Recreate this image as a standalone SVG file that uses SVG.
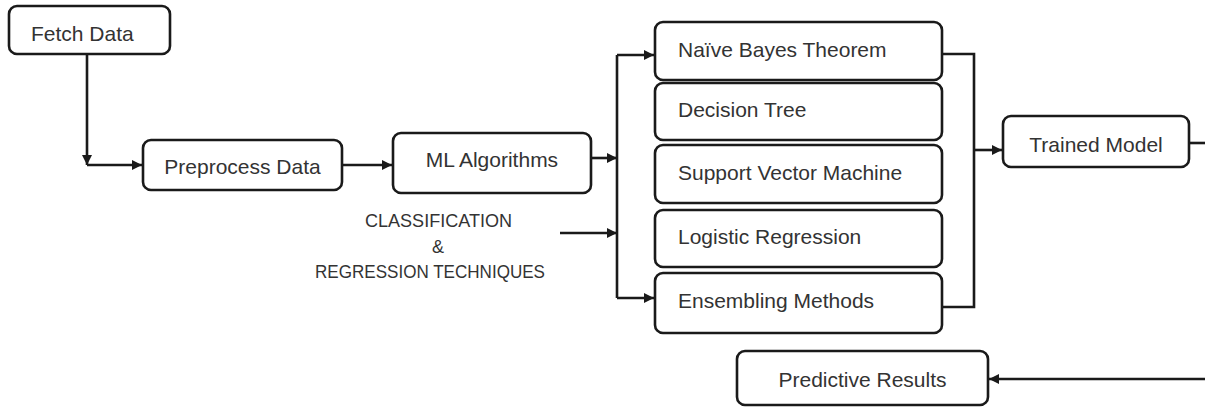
<svg xmlns="http://www.w3.org/2000/svg" width="1205" height="407" viewBox="0 0 1205 407">
<style>
.box{fill:#fff;stroke:#1a1a1a;stroke-width:2.6}
.lbl{font-family:"Liberation Sans",Arial,sans-serif;font-size:21px;fill:#333}
.cap{font-family:"Liberation Sans",Arial,sans-serif;font-size:18px;fill:#333}
.ln{fill:none;stroke:#1a1a1a;stroke-width:2.6}
</style>
<defs>
<marker id="ah" viewBox="0 0 10 10" refX="10" refY="5" markerWidth="12" markerHeight="10" markerUnits="userSpaceOnUse" orient="auto">
<path d="M0,0 L10,5 L0,10 Z" fill="#1a1a1a"/>
</marker>
</defs>
<rect width="1205" height="407" fill="#fff"/>
<g id="connectors">
<path class="ln" d="M87,54 V165" marker-end="url(#ah)"/>
<path class="ln" d="M87,165 H142" marker-end="url(#ah)"/>
<path class="ln" d="M342,165 H392" marker-end="url(#ah)"/>
<path class="ln" d="M591,158 H617" marker-end="url(#ah)"/>
<path class="ln" d="M560,233 H617" marker-end="url(#ah)"/>
<path class="ln" d="M617,55 V298"/>
<path class="ln" d="M617,55 H654" marker-end="url(#ah)"/>
<path class="ln" d="M617,298 H654" marker-end="url(#ah)"/>
<path class="ln" d="M942,54 H974 V307 H942"/>
<path class="ln" d="M974,150 H1002" marker-end="url(#ah)"/>
<path class="ln" d="M1189,143 H1205"/>
<path class="ln" d="M1205,379 H989" marker-end="url(#ah)"/>
</g>
<g id="fetch"><rect class="box" x="9" y="6" width="161" height="48" rx="8"/><text class="lbl" x="31" y="41">Fetch Data</text></g>
<g id="preprocess"><rect class="box" x="143" y="140" width="199" height="50" rx="8"/><text class="lbl" x="242.5" y="174" text-anchor="middle">Preprocess Data</text></g>
<g id="ml"><rect class="box" x="393" y="133" width="198" height="60" rx="8"/><text class="lbl" x="492" y="167" text-anchor="middle">ML Algorithms</text></g>
<g id="caption">
<text class="cap" x="438.5" y="227" text-anchor="middle" textLength="147" lengthAdjust="spacingAndGlyphs">CLASSIFICATION</text>
<text class="cap" x="438" y="253" text-anchor="middle" font-size="16">&amp;</text>
<text class="cap" x="430" y="278" text-anchor="middle" textLength="230" lengthAdjust="spacingAndGlyphs">REGRESSION TECHNIQUES</text>
</g>
<g id="nb"><rect class="box" x="655" y="22" width="287" height="58" rx="8"/><text class="lbl" x="678" y="57">Naïve Bayes Theorem</text></g>
<g id="dt"><rect class="box" x="655" y="83" width="287" height="57" rx="8"/><text class="lbl" x="678" y="117">Decision Tree</text></g>
<g id="svm"><rect class="box" x="655" y="145" width="287" height="58" rx="8"/><text class="lbl" x="678" y="180">Support Vector Machine</text></g>
<g id="lr"><rect class="box" x="655" y="210" width="287" height="57" rx="8"/><text class="lbl" x="678" y="244">Logistic Regression</text></g>
<g id="ens"><rect class="box" x="655" y="273" width="287" height="60" rx="8"/><text class="lbl" x="678" y="308">Ensembling Methods</text></g>
<g id="trained"><rect class="box" x="1003" y="116" width="186" height="51" rx="8"/><text class="lbl" x="1096" y="152" text-anchor="middle">Trained Model</text></g>
<g id="predictive"><rect class="box" x="737" y="351" width="251" height="54" rx="8"/><text class="lbl" x="862.5" y="387" text-anchor="middle">Predictive Results</text></g>
</svg>
